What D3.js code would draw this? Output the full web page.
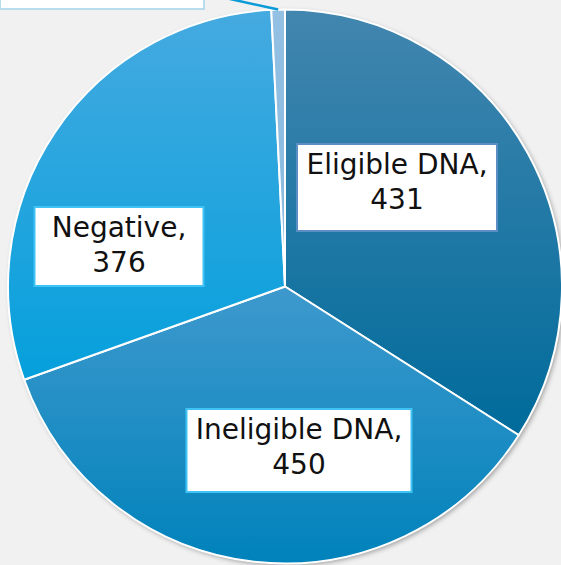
<!DOCTYPE html>
<html>
<head>
<meta charset="utf-8">
<script src="https://cdn.jsdelivr.net/npm/d3@7"></script>
<style>
  html, body { margin: 0; padding: 0; background: #f1f1f1; }
  svg { display: block; }
</style>
</head>
<body>
<svg id="canvas" width="561" height="565"></svg>
<script>
// slice data, clockwise from 12 o'clock
var categories = ['Eligible DNA', 'Ineligible DNA', 'Negative', 'Other'];
var values = [431, 450, 376, 10];

// gradient colours per slice (top -> bottom)
var topColors = ['#4286af', '#3e99cd', '#45aae0', '#93c0e3'];
var bottomColors = ['#006b9b', '#0082bb', '#05a0dc', '#88badf'];

// label boxes: offset of box centre from pie centre, box size, border colour
// (the last box sits above the page edge, only its bottom strip shows)
var labelLayout = [
    { dx: 112, dy: -99, w: 200, h: 87, border: '#5b8fc4', text: true },
    { dx: 14, dy: 164, w: 225, h: 83, border: '#3fc3f5', text: true },
    { dx: -166, dy: -40, w: 169, h: 79, border: '#3fc3f5', text: true },
    { dx: -183, dy: -345, w: 204, h: 135, border: '#b9dcec', text: false }
];

var width = 561, height = 565;
var cx = 285, cy = 286.5, radius = 277;

var svg = d3.select('#canvas');
var defs = svg.append('defs');

var shadow = defs.append('filter')
    .attr('id', 'shadow')
    .attr('x', '-10%').attr('y', '-10%')
    .attr('width', '120%').attr('height', '120%');
shadow.append('feDropShadow')
    .attr('dx', 2).attr('dy', 2)
    .attr('stdDeviation', 2.5)
    .attr('flood-color', '#000')
    .attr('flood-opacity', 0.35);

categories.forEach(function(c, i) {
    var g = defs.append('linearGradient')
        .attr('id', 'grad' + i)
        .attr('x1', 0).attr('y1', 0)
        .attr('x2', 0).attr('y2', 1);
    g.append('stop').attr('offset', '0%').attr('stop-color', topColors[i]);
    g.append('stop').attr('offset', '100%').attr('stop-color', bottomColors[i]);
});

var data = categories.map(function(c, i) {
    return { name: c, value: values[i], idx: i };
});

var pie = d3.pie()
    .sort(null)
    .value(function(d) { return d.value; });

var arc = d3.arc()
    .innerRadius(0)
    .outerRadius(radius);

var chart = svg.append('g')
    .attr('transform', 'translate(' + cx + ',' + cy + ')');

// shadow disc under the slices
chart.append('circle')
    .attr('r', radius)
    .attr('fill', '#ffffff')
    .attr('filter', 'url(#shadow)');

var arcs = pie(data);

chart.selectAll('path.slice')
    .data(arcs)
    .enter()
    .append('path')
    .attr('class', 'slice')
    .attr('d', arc)
    .attr('fill', function(d) { return 'url(#grad' + d.data.idx + ')'; })
    .attr('stroke', '#ffffff')
    .attr('stroke-width', 2)
    .attr('stroke-linejoin', 'round');

// leader line for the small slice
var small = arcs[3];
var mid = (small.startAngle + small.endAngle) / 2;
var sx = Math.sin(mid) * radius, sy = -Math.cos(mid) * radius;
chart.append('line')
    .attr('x1', sx)
    .attr('y1', sy)
    .attr('x2', sx - 50)
    .attr('y2', sy - 11)
    .attr('stroke', '#0b9bd6')
    .attr('stroke-width', 2.5);

// label boxes
var labels = chart.selectAll('g.label')
    .data(arcs)
    .enter()
    .append('g')
    .attr('class', 'label')
    .attr('transform', function(d) {
        var l = labelLayout[d.data.idx];
        return 'translate(' + l.dx + ',' + l.dy + ')';
    });

labels.append('rect')
    .attr('x', function(d) { return -labelLayout[d.data.idx].w / 2; })
    .attr('y', function(d) { return -labelLayout[d.data.idx].h / 2; })
    .attr('width', function(d) { return labelLayout[d.data.idx].w; })
    .attr('height', function(d) { return labelLayout[d.data.idx].h; })
    .attr('fill', '#ffffff')
    .attr('stroke', function(d) { return labelLayout[d.data.idx].border; })
    .attr('stroke-width', 2);

labels.filter(function(d) { return labelLayout[d.data.idx].text; })
    .append('text')
    .attr('text-anchor', 'middle')
    .attr('font-family', 'DejaVu Sans, Verdana, sans-serif')
    .attr('font-size', 28)
    .attr('fill', '#111')
    .each(function(d) {
        var l = labelLayout[d.data.idx];
        var t = d3.select(this);
        var top = -l.h / 2;
        t.append('tspan').attr('x', 0).attr('y', top + 29.5).text(d.data.name + ',');
        t.append('tspan').attr('x', 0).attr('y', top + 65).text(d.data.value);
    });
</script>
</body>
</html>
